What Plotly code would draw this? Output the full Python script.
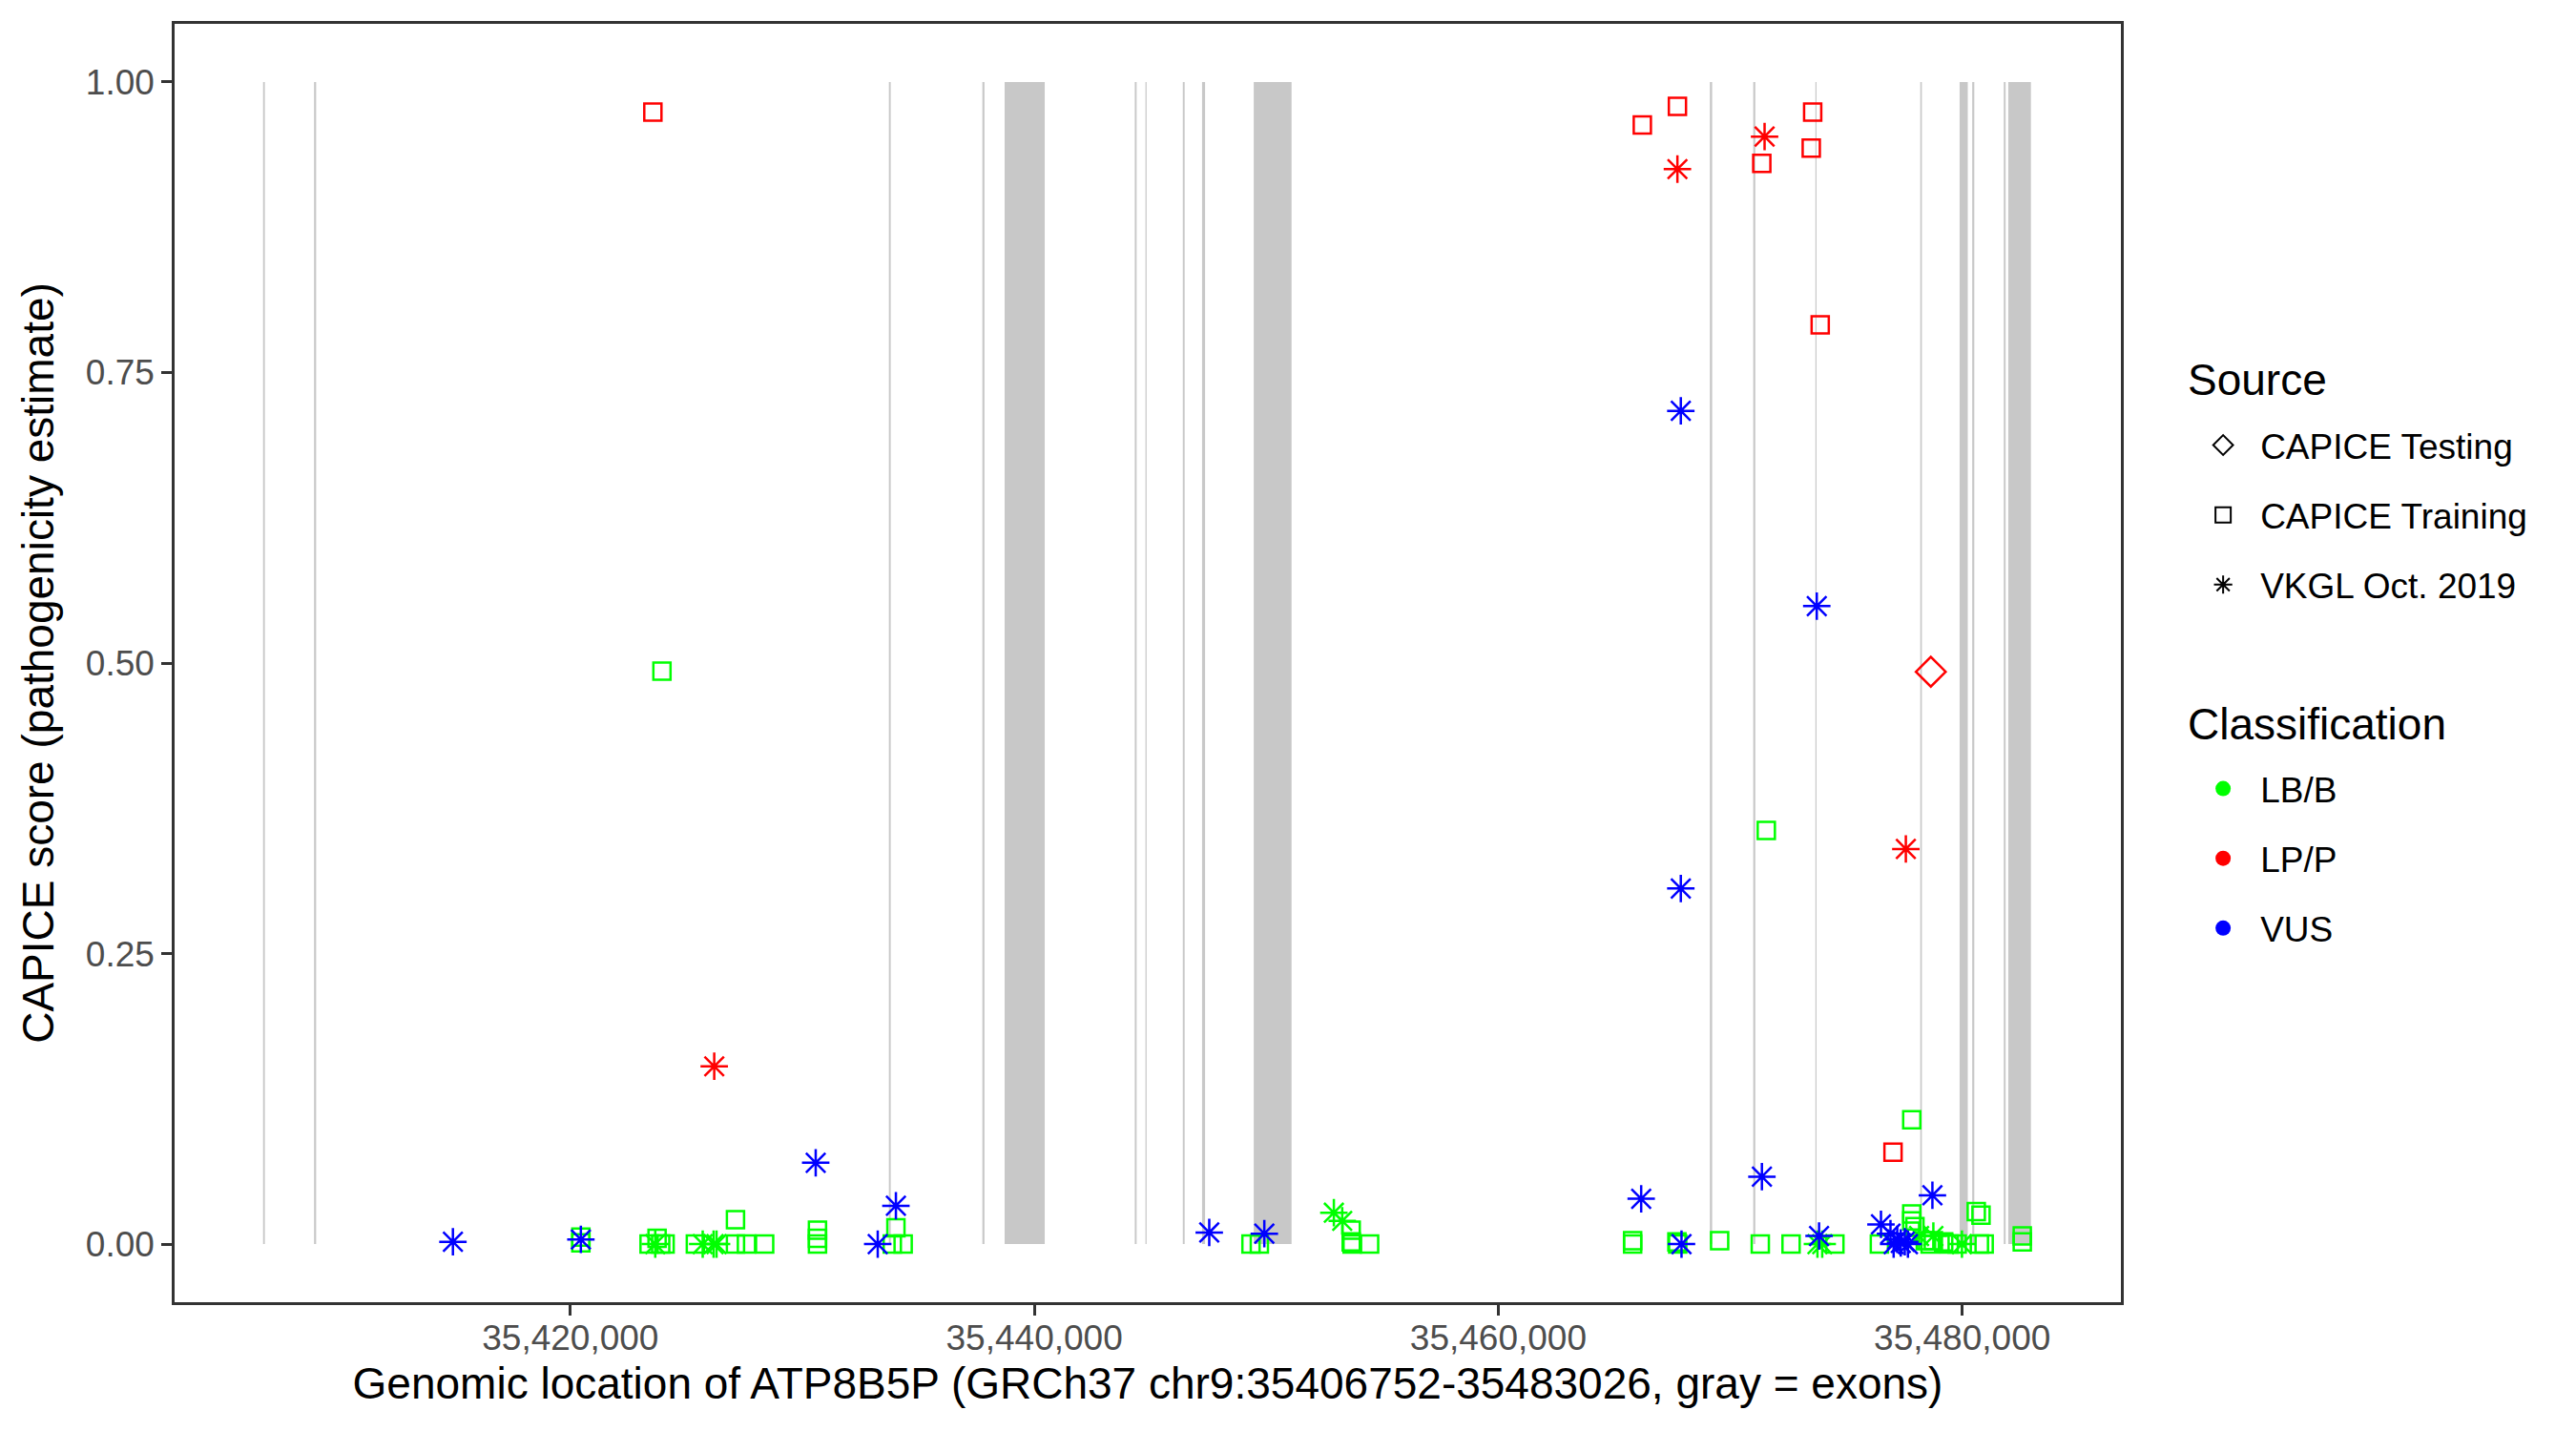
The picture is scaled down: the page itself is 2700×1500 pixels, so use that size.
import plotly.graph_objects as go

# ---------------- data ----------------
gene_start = 35406752
gene_end = 35483026

exon_start = [35406752, 35408950, 35433730, 35437760, 35438719, 35444330, 35444790,
              35446400, 35447230, 35449458, 35469120, 35470990, 35473670, 35478190,
              35479886, 35480430, 35481790, 35481984]
exon_end = [35406830, 35409040, 35433810, 35437850, 35440448, 35444410, 35444840,
            35446480, 35447360, 35451088, 35469220, 35471080, 35473720, 35478260,
            35480239, 35480520, 35481870, 35482961]

# CAPICE Training
train_lp_x = [35423556, 35466209, 35467722, 35471359, 35473553, 35473491, 35473877, 35477016]
train_lp_y = [0.974, 0.963, 0.979, 0.930, 0.974, 0.943, 0.791, 0.079]

train_lb_x = [35420452, 35420452, 35423392, 35423737, 35423893, 35424083, 35423947,
              35425388, 35427117, 35427117, 35427589, 35428374, 35430652, 35430652,
              35430652, 35434033, 35433877, 35434345,
              35449339, 35449700, 35453659, 35453659, 35453700, 35454452,
              35465791, 35465791, 35467734, 35467700, 35469541, 35471294, 35472621,
              35474510, 35471553,
              35477824, 35476428, 35477824, 35477824, 35477961, 35478408, 35478755,
              35479200, 35478616, 35479437, 35479782, 35480739, 35480945, 35480604,
              35480809, 35482588, 35482588]
train_lb_y = [0.001, 0.006, 0.000, 0.005, 0.000, 0.000, 0.493,
              0.000, 0.021, 0.000, 0.000, 0.000, 0.012, 0.005,
              0.000, 0.014, 0.000, 0.000,
              0.000, 0.000, 0.012, 0.002, 0.000, 0.000,
              0.000, 0.003, 0.000, 0.002, 0.003, 0.000, 0.000,
              0.000, 0.356,
              0.107, 0.000, 0.026, 0.020, 0.015, 0.003, 0.003,
              0.002, 0.000, 0.000, 0.000, 0.000, 0.000, 0.028,
              0.025, 0.007, 0.002]

# CAPICE Testing
test_lp_x = [35478645]
test_lp_y = [0.4925]

# VKGL Oct. 2019
vkgl_lp_x = [35426201, 35467722, 35471479, 35477569]
vkgl_lp_y = [0.153, 0.925, 0.953, 0.340]

vkgl_vus_x = [35414936, 35420452, 35430575, 35433249, 35434033, 35447540, 35449914,
              35466160, 35467868, 35467868, 35467898, 35471364, 35473729, 35473828,
              35476497, 35476907, 35477043, 35477200, 35477350, 35477522, 35477659,
              35478714]
vkgl_vus_y = [0.002, 0.004, 0.070, 0.000, 0.033, 0.010, 0.009,
              0.039, 0.717, 0.306, 0.000, 0.058, 0.549, 0.007,
              0.017, 0.009, 0.000, 0.004, 0.001, 0.002, 0.000,
              0.042]

vkgl_lb_x = [35423659, 35425704, 35426173, 35426300, 35452912, 35453273,
             35473758, 35473964, 35478140, 35478755, 35479987]
vkgl_lb_y = [0.000, 0.000, 0.000, 0.000, 0.027, 0.020,
             0.000, 0.000, 0.007, 0.007, 0.000]

x_tickvals = [35420000, 35440000, 35460000, 35480000]
x_ticktext = ["35,420,000", "35,440,000", "35,460,000", "35,480,000"]
y_tickvals = [0.0, 0.25, 0.5, 0.75, 1.0]
y_ticktext = ["0.00", "0.25", "0.50", "0.75", "1.00"]

source_title = "Source"
class_title = "Classification"
source_names = ["CAPICE Testing", "CAPICE Training", "VKGL Oct. 2019"]
class_names = ["LB/B", "LP/P", "VUS"]

# ---------------- styling ----------------
colors = {"LB/B": "#00FF00", "LP/P": "#FF0000", "VUS": "#0000FF"}
symbols = {"CAPICE Testing": "diamond-open", "CAPICE Training": "square-open",
           "VKGL Oct. 2019": "asterisk-open"}
sizes = {"CAPICE Testing": 24, "CAPICE Training": 18, "VKGL Oct. 2019": 24}
FONT = "Liberation Sans"

fig = go.Figure()

# exons as shapes in data coordinates
shapes = []
for s, e in zip(exon_start, exon_end):
    shapes.append(dict(type="rect", xref="x", yref="y", x0=s, x1=e, y0=0, y1=1,
                       fillcolor="#C8C8C8", line=dict(width=0), layer="below"))

series = [
    ("CAPICE Training", "LB/B", train_lb_x, train_lb_y),
    ("VKGL Oct. 2019", "LB/B", vkgl_lb_x, vkgl_lb_y),
    ("VKGL Oct. 2019", "VUS", vkgl_vus_x, vkgl_vus_y),
    ("CAPICE Training", "LP/P", train_lp_x, train_lp_y),
    ("VKGL Oct. 2019", "LP/P", vkgl_lp_x, vkgl_lp_y),
    ("CAPICE Testing", "LP/P", test_lp_x, test_lp_y),
]
for src, cls, xs, ys in series:
    fig.add_trace(go.Scatter(
        x=xs, y=ys, mode="markers", showlegend=False, name=f"{src} {cls}",
        marker=dict(symbol=symbols[src], size=sizes[src], color=colors[cls],
                    line=dict(color=colors[cls], width=2.5))))

# legend entries
for i, src in enumerate(source_names):
    fig.add_trace(go.Scatter(
        x=[None], y=[None], mode="markers", name=src, legend="legend",
        legendgroup="s" + str(i),
        marker=dict(symbol=symbols[src], size=16, color="black",
                    line=dict(color="black", width=2))))
for i, cls in enumerate(class_names):
    fig.add_trace(go.Scatter(
        x=[None], y=[None], mode="markers", name=cls, legend="legend2",
        legendgroup="c" + str(i),
        marker=dict(symbol="circle", size=16, color=colors[cls])))

pad = 0.05 * (gene_end - gene_start)
legend_common = dict(
    font=dict(size=37, family=FONT, color="black"),
    xanchor="left", yanchor="top", x=1.0334,
    traceorder="grouped", tracegroupgap=22, itemwidth=68,
    itemclick=False, itemdoubleclick=False, bgcolor="rgba(0,0,0,0)",
)
fig.update_layout(
    width=2700, height=1500,
    paper_bgcolor="white", plot_bgcolor="white",
    margin=dict(l=175, r=485, t=17, b=143),
    shapes=shapes,
    font=dict(family=FONT, color="black"),
    xaxis=dict(
        range=[gene_start - pad, gene_end + pad], showgrid=False, zeroline=False,
        tickmode="array", tickvals=x_tickvals, ticktext=x_ticktext,
        ticks="outside", ticklen=11, tickwidth=2.5, tickcolor="#333333",
        ticklabelstandoff=-8,
        tickfont=dict(size=37, color="#4D4D4D", family=FONT),
        showline=True, linecolor="#333333", linewidth=2.5, mirror=True,
        title=dict(text="Genomic location of ATP8B5P (GRCh37 chr9:35406752-35483026, gray = exons)",
                   font=dict(size=46, color="black", family=FONT), standoff=12),
    ),
    yaxis=dict(
        range=[-0.05, 1.05], showgrid=False, zeroline=False,
        tickmode="array", tickvals=y_tickvals, ticktext=y_ticktext,
        ticks="outside", ticklen=11, tickwidth=2.5, tickcolor="#333333",
        tickfont=dict(size=37, color="#4D4D4D", family=FONT),
        showline=True, linecolor="#333333", linewidth=2.5, mirror=True,
        title=dict(text="CAPICE score (pathogenicity estimate)",
                   font=dict(size=46, color="black", family=FONT), standoff=19),
    ),
    legend=dict(y=0.6933, **legend_common),
    legend2=dict(y=0.4246, **legend_common),
    annotations=[
        dict(text=source_title, xref="paper", yref="paper", x=1.0333, y=0.7216,
             xanchor="left", yanchor="middle", showarrow=False,
             font=dict(size=46, family=FONT, color="black")),
        dict(text=class_title, xref="paper", yref="paper", x=1.0333, y=0.4526,
             xanchor="left", yanchor="middle", showarrow=False,
             font=dict(size=46, family=FONT, color="black")),
    ],
)

fig.write_html("out.html")
